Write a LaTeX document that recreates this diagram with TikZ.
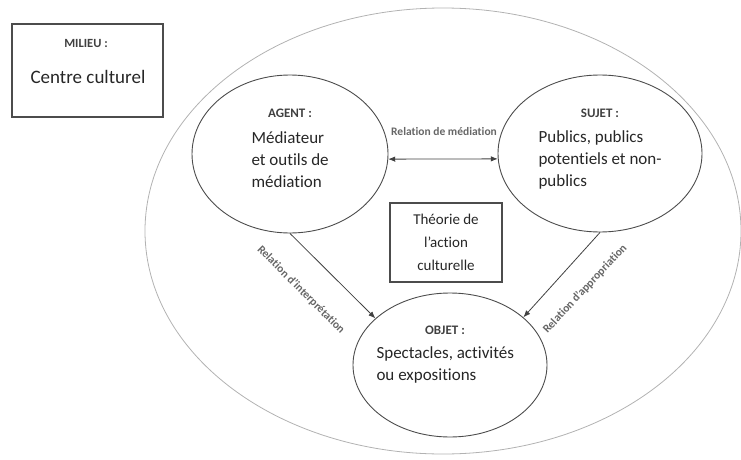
\documentclass[tikz,border=0pt]{standalone}
\usepackage{fontspec}
\setmainfont{Carlito}[Ligatures={TeX,NoCommon}]
\usetikzlibrary{shapes.geometric,positioning,arrows.meta}

\begin{document}
\begin{tikzpicture}[x=1pt,y=-1pt,
    bulle/.style={draw=black!70,ellipse,line width=0.9pt},
    cadre/.style={draw=black!70,line width=1.6pt},
    titre/.style={font=\fontsize{13}{15}\selectfont\bfseries,text=black!75},
    corps/.style={font=\fontsize{17}{22}\selectfont,align=left,text=black!85},
    rel/.style={font=\fontsize{11.5}{13}\selectfont\bfseries,text=black!60},
    fleche/.style={draw=black!75,line width=0.8pt},
    pointe/.tip={Latex[length=7pt,width=5.5pt]}]
\useasboundingbox (0,0) rectangle (741,460);
\draw[black!30,line width=0.8pt] (443,231) ellipse [x radius=298,y radius=223];
\node[cadre,minimum width=151,minimum height=93] (milieu) at (87.5,70.5) {};
\node[titre,font=\fontsize{12.5}{15}\selectfont\bfseries] (milieuT) at (86,43) {MILIEU :};
\node[corps,font=\fontsize{19}{22}\selectfont] (milieuC) at (88,77) {Centre culturel};
\node[bulle,minimum width=196,minimum height=158] (agent) at (290,154) {};
\node[titre] (agentT) at (290,113) {AGENT :};
\node[corps,anchor=west] (agentC) at (248,160) {Médiateur\\et outils de\\médiation};
\node[bulle,minimum width=204,minimum height=157] (sujet) at (600,153.5) {};
\node[titre] (sujetT) at (600,113) {SUJET :};
\node[corps,anchor=west] (sujetC) at (535,160) {Publics, publics\\potentiels et non-\\publics};
\node[bulle,minimum width=194,minimum height=144] (objet) at (450,365) {};
\node[titre] (objetT) at (445,330) {OBJET :};
\node[corps,anchor=west] (objetC) at (373,365) {Spectacles, activités\\ou expositions};
\node[cadre,line width=1.4pt,minimum width=112,minimum height=79,align=center,
    font=\fontsize{15}{23}\selectfont,text=black!85] (theorie) at (446,242.5) {Théorie de\\l’action\\culturelle};
\node[rel] (relMed) at (444,132) {Relation de médiation};
\node[rel,rotate=-45] (relInt) at (301,290) {Relation d’interprétation};
\node[rel,rotate=47] (relApp) at (585,289) {Relation d’appropriation};
\draw[fleche,pointe-pointe] (agent.-3) -- (sujet.183);
\draw[fleche,-pointe] (agent.south) -- (objet.148);
\draw[fleche,-pointe] (sujet.south) -- (objet.33);
\end{tikzpicture}
\end{document}
